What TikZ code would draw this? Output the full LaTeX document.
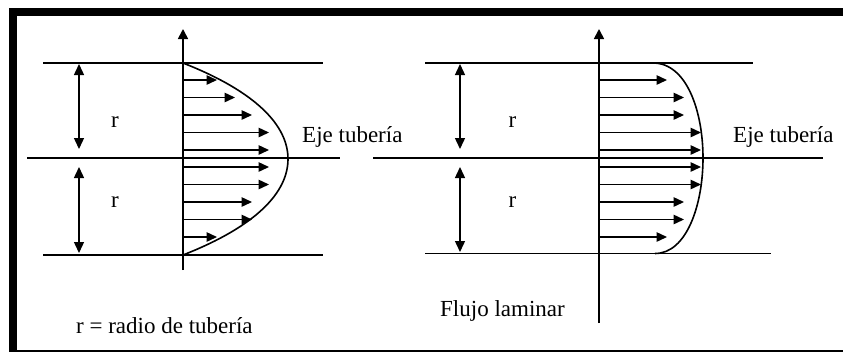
\documentclass[tikz,border=0pt]{standalone}
\usepackage{fontspec}
\setmainfont{Liberation Serif}
\usetikzlibrary{arrows.meta}
\begin{document}
\begin{tikzpicture}[x=1pt,y=-1pt,
  wall/.style={line width=1.7pt},
  vel/.style={line width=1.4pt,-{Triangle[length=10.5pt,width=9.5pt]}},
  dimarrow/.style={line width=1.4pt,{Triangle[length=11pt,width=10pt]}-{Triangle[length=11pt,width=10pt]}},
  axisline/.style={line width=1.7pt,-{Triangle[length=10pt,width=10pt]}},
  profile/.style={line width=1.6pt},
  lbl/.style={font=\fontsize{23}{27}\selectfont, inner sep=0pt, anchor=base west},
  rlbl/.style={font=\fontsize{23}{27}\selectfont, inner sep=0pt, anchor=base},
]
\useasboundingbox (0,0) rectangle (843,351);
\clip (0,0) rectangle (843,351);

% outer frame
\draw[line width=8pt] (860,12) -- (13,12) -- (13,354) -- (860,354);

% ---------- parabolic profile ----------
\draw[wall] (43,63) -- (323,63);
\draw[wall] (43,255) -- (323,255);
\draw[wall] (27,158) -- (340,158);
\draw[axisline] (183,270) -- (183,29);
\draw[profile] (183,63) .. controls (257,92) and (288,126) .. (288,159)
                        .. controls (288,192) and (257,226) .. (183,255);
\foreach \yy/\tip in {80/217, 97.5/235, 115/252, 132.5/269, 150/269,
                      167/269, 184.5/269, 202/252, 219.5/252, 237/217}
  \draw[vel] (183,\yy) -- (\tip,\yy);
\draw[dimarrow] (79,64) -- (79,149);
\draw[dimarrow] (79,167) -- (79,253);
\node[rlbl] (rA) at (115,127) {r};
\node[rlbl] (rB) at (115,207) {r};
\node[lbl] (ejeA) at (302,142) {Eje tubería};
\node[lbl] (radio) at (76,333) {r = radio de tubería};

% ---------- flattened profile ----------
\draw[wall] (425,63) -- (753,63);
\draw[wall] (425,253.5) -- (771,253.5);
\draw[wall] (373,158) -- (823,158);
\draw[axisline] (599,323) -- (599,29);
\draw[profile] (653,63) .. controls (687,63) and (703,112) .. (703,158)
                        .. controls (703,204) and (687,253.5) .. (655,253.5);
\foreach \yy/\tip in {80/667, 97.5/684, 115/684, 132.5/701, 150/701,
                      167/701, 184.5/701, 202/684, 219.5/684, 237/667}
  \draw[vel] (599,\yy) -- (\tip,\yy);
\draw[dimarrow] (460,64) -- (460,149);
\draw[dimarrow] (460,167) -- (460,252);
\node[rlbl] (rC) at (512.5,127) {r};
\node[rlbl] (rD) at (512.5,207) {r};
\node[lbl] (ejeB) at (733,142) {Eje tubería};
\node[lbl] (flujo) at (440,316) {Flujo laminar};
\end{tikzpicture}
\end{document}
